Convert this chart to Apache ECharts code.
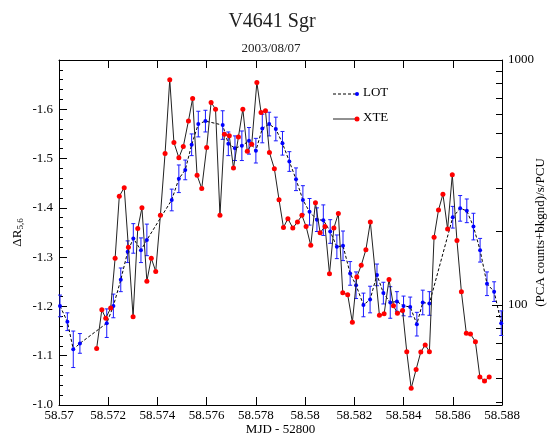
<!DOCTYPE html>
<html>
<head>
<meta charset="utf-8">
<script src="https://cdn.jsdelivr.net/npm/echarts@6/dist/echarts.min.js"></script>
<style>html,body{margin:0;padding:0;background:#fff;}#c{width:553px;height:436px;}</style>
</head>
<body>
<div id="c"></div>
<script>
// LOT optical data (left axis, ΔR5,6)
const lotX = [58.57004,58.57034,58.57058,58.57085,58.57194,58.57221,58.57251,58.57279,58.57302,58.57333,58.57357,
  58.57458,58.57487,58.57513,58.57539,58.57566,58.57595,
  58.57665,58.57688,58.57715,58.57743,58.57772,58.57800,58.57826,58.57854,58.57881,58.57908,58.57936,58.57963,58.57991,
  58.58018,58.58048,58.58074,58.58102,58.58129,58.58154,58.58183,58.58207,58.58237,58.58264,58.58292,58.58318,58.58346,
  58.58373,58.58400,58.58427,58.58454,58.58478,58.58505,
  58.58600,58.58630,58.58657,58.58684,58.58711,58.58739,58.58768,58.58797];
const lotY = [-1.201,-1.169,-1.113,-1.125,-1.166,-1.201,-1.254,-1.311,-1.338,-1.314,-1.335,
  -1.416,-1.459,-1.477,-1.528,-1.570,-1.576,
  -1.568,-1.530,-1.521,-1.526,-1.536,-1.516,-1.561,-1.570,-1.560,-1.531,-1.494,-1.458,-1.416,
  -1.392,-1.376,-1.375,-1.352,-1.321,-1.323,-1.267,-1.243,-1.203,-1.214,-1.264,-1.227,-1.208,
  -1.210,-1.201,-1.199,-1.164,-1.208,-1.206,
  -1.381,-1.399,-1.394,-1.362,-1.314,-1.246,-1.230,-1.166];
const lotErr = [0.022,0.018,0.037,0.020,0.029,0.024,0.024,0.022,0.030,0.025,0.032,
  0.022,0.028,0.020,0.022,0.026,0.022,
  0.029,0.024,0.025,0.030,0.027,0.025,0.029,0.024,0.024,0.024,0.020,0.023,0.029,
  0.027,0.024,0.031,0.024,0.024,0.030,0.024,0.027,0.024,0.027,0.022,0.022,0.032,
  0.020,0.020,0.020,0.024,0.025,0.024,
  0.022,0.026,0.024,0.027,0.024,0.024,0.020,0.025];
// XTE X-ray data (right log axis, counts/s/PCU)
const xteX = [58.57153,58.57174,58.57190,58.57210,58.57228,58.57245,58.57265,58.57282,58.57301,58.57320,
  58.57337,58.57357,58.57375,58.57393,58.57412,58.57431,58.57450,58.57467,58.57487,58.57505,
  58.57526,58.57543,58.57561,58.57580,58.57600,58.57618,58.57636,58.57654,58.57672,58.57692,
  58.57709,58.57729,58.57747,58.57765,58.57783,58.57804,58.57821,58.57839,58.57855,58.57875,
  58.57894,58.57912,58.57930,58.57950,58.57969,58.57987,58.58004,58.58023,58.58042,58.58061,
  58.58081,58.58099,58.58117,58.58135,58.58153,58.58173,58.58192,58.58210,58.58228,58.58247,
  58.58265,58.58302,58.58321,58.58341,58.58359,58.58375,58.58396,58.58413,58.58431,58.58451,
  58.58470,58.58488,58.58505,58.58524,58.58542,58.58560,58.58579,58.58598,58.58617,58.58635,
  58.58655,58.58672,58.58692,58.58710,58.58729,58.58748];
const xteY = [66.4,95.4,88.2,97.0,155,278,301,172,89.5,205,
  249,125,155,137,232,415,831,460,399,443,
  564,697,338,299,439,671,630,232,497,490,
  362,485,630,424,453,810,611,620,419,360,
  269,207,225,206,218,232,209,175,261,197,
  209,134,206,236,112,110,84.9,130,145,168,
  218,90.7,91.9,127,99.1,92.5,94.8,64.4,45.6,54.5,
  64.2,68.6,64.4,189,244,283,204,340,183,113,
  76.6,76.0,70.7,50.8,48.9,50.8];
const xTicks = {min: 58.57, max: 58.588, interval: 0.002};
const leftTicks = {min: -1.7, max: -1.0, interval: 0.1};
const rightMin = 39, rightMax = 1000;
const rightTickValues = [40,50,60,70,80,90,100,200,300,400,500,600,700,800,900,1000];
const rightLabelValues = [100, 1000];

const FONT = '"Liberation Serif", "DejaVu Serif", serif';
const chart = echarts.init(document.getElementById('c'), null, {renderer: 'canvas'});

const lotData = lotX.map((x, i) => [x, lotY[i]]);
const errData = lotX.map((x, i) => [x, lotY[i], lotErr[i]]);
const xteData = xteX.map((x, i) => [x, xteY[i]]);

const axisLine = {show: true, onZero: false, lineStyle: {color: '#000', width: 1}};

chart.setOption({
  animation: false,
  backgroundColor: '#fff',
  title: [
    {text: 'V4641 Sgr', left: 267, top: 7, textAlign: 'center',
     textStyle: {fontFamily: FONT, fontSize: 20, fontWeight: 'normal', color: '#222'}},
    {text: '2003/08/07', left: 266, top: 37, textAlign: 'center',
     textStyle: {fontFamily: FONT, fontSize: 13, fontWeight: 'normal', color: '#222'}}
  ],
  grid: {left: 59, right: 51, top: 60, bottom: 31, containLabel: false, outerBoundsMode: 'none'},
  xAxis: [
    {type: 'value', min: xTicks.min, max: xTicks.max, interval: xTicks.interval, position: 'bottom',
     name: 'MJD - 52800', nameLocation: 'middle', nameGap: 18, nameMoveOverlap: false,
     nameTextStyle: {fontFamily: FONT, fontSize: 13, color: '#000'},
     axisLine: axisLine,
     axisTick: {show: true, inside: true, length: 8, lineStyle: {color: '#000'}},
     axisLabel: {fontFamily: FONT, fontSize: 13, color: '#000', margin: 4,
       formatter: v => String(parseFloat(v.toFixed(3)))},
     splitLine: {show: false}},
    {type: 'value', min: xTicks.min, max: xTicks.max, interval: xTicks.interval, position: 'top',
     axisLine: axisLine,
     axisTick: {show: true, inside: true, length: 8, lineStyle: {color: '#000'}},
     axisLabel: {show: false}, splitLine: {show: false}}
  ],
  yAxis: [
    {type: 'value', min: leftTicks.min, max: leftTicks.max, interval: leftTicks.interval, inverse: true,
     position: 'left',
     name: '{a|ΔR}{b|5,6}', nameLocation: 'middle', nameGap: 34, nameRotate: 90, nameMoveOverlap: false,
     nameTextStyle: {rich: {
       a: {fontFamily: FONT, fontSize: 13, color: '#000'},
       b: {fontFamily: FONT, fontSize: 9, color: '#000', verticalAlign: 'bottom', padding: [6, 0, 0, 0]}}},
     axisLine: axisLine,
     axisTick: {show: true, inside: true, length: 8, lineStyle: {color: '#000'}},
     minorTick: {show: true, splitNumber: 5, length: 4, lineStyle: {color: '#000'}},
     axisLabel: {fontFamily: FONT, fontSize: 13, color: '#000', margin: 6,
       formatter: v => (Math.round(v * 10) <= -17 ? '' : (Math.round(v * 10) / 10).toFixed(1))},
     splitLine: {show: false}},
    {type: 'log', logBase: 10, min: rightMin, max: rightMax, position: 'right',
     name: '(PCA counts+bkgnd)/s/PCU', nameLocation: 'middle', nameGap: 32, nameRotate: 90, nameMoveOverlap: false,
     nameTextStyle: {fontFamily: FONT, fontSize: 13, color: '#000'},
     axisLine: axisLine,
     axisTick: {show: true, inside: true, length: 6, customValues: rightTickValues, lineStyle: {color: '#000'}},
     axisLabel: {fontFamily: FONT, fontSize: 13, color: '#000', margin: 6, customValues: rightLabelValues,
       formatter: v => String(Math.round(v))},
     splitLine: {show: false}},
    {type: 'log', logBase: 10, min: rightMin, max: rightMax, position: 'right',
     axisLine: {show: false},
     axisTick: {show: true, inside: true, length: 10, customValues: rightLabelValues, lineStyle: {color: '#000'}},
     axisLabel: {show: false}, splitLine: {show: false}}
  ],
  series: [
    {name: 'LOT', type: 'line', xAxisIndex: 0, yAxisIndex: 0, data: lotData,
     symbol: 'circle', symbolSize: 4, showSymbol: true,
     lineStyle: {color: '#000', width: 1, type: [3, 2]},
     itemStyle: {color: '#0000ff'}, z: 3},
    {name: 'LOTerr', type: 'custom', xAxisIndex: 0, yAxisIndex: 0, data: errData,
     encode: {x: 0, y: 1},
     renderItem: (params, api) => {
       const x = api.value(0), y = api.value(1), e = api.value(2);
       const lo = api.coord([x, y - e]);
       const hi = api.coord([x, y + e]);
       const w = 2;
       const st = {stroke: '#1a1aff', lineWidth: 1};
       return {type: 'group', children: [
         {type: 'line', shape: {x1: lo[0], y1: lo[1], x2: hi[0], y2: hi[1]}, style: st},
         {type: 'line', shape: {x1: lo[0] - w, y1: lo[1], x2: lo[0] + w, y2: lo[1]}, style: st},
         {type: 'line', shape: {x1: hi[0] - w, y1: hi[1], x2: hi[0] + w, y2: hi[1]}, style: st}
       ]};
     }, z: 2},
    {name: 'XTE', type: 'line', xAxisIndex: 0, yAxisIndex: 1, data: xteData,
     symbol: 'circle', symbolSize: 5, showSymbol: true,
     lineStyle: {color: '#222', width: 1},
     itemStyle: {color: '#ff0000'}, z: 4}
  ],
  graphic: [
    {type: 'line', shape: {x1: 333, y1: 94, x2: 357, y2: 94}, style: {stroke: '#000', lineWidth: 1, lineDash: [3, 2]}},
    {type: 'circle', shape: {cx: 357, cy: 94, r: 2}, style: {fill: '#0000ff'}},
    {type: 'text', left: 363, top: 86, style: {text: 'LOT', font: '13px ' + FONT, fill: '#000'}},
    {type: 'line', shape: {x1: 333, y1: 119, x2: 357, y2: 119}, style: {stroke: '#222', lineWidth: 1}},
    {type: 'circle', shape: {cx: 357, cy: 119, r: 2.5}, style: {fill: '#ff0000'}},
    {type: 'text', left: 363, top: 111, style: {text: 'XTE', font: '13px ' + FONT, fill: '#000'}}
  ]
});
</script>
</body>
</html>
